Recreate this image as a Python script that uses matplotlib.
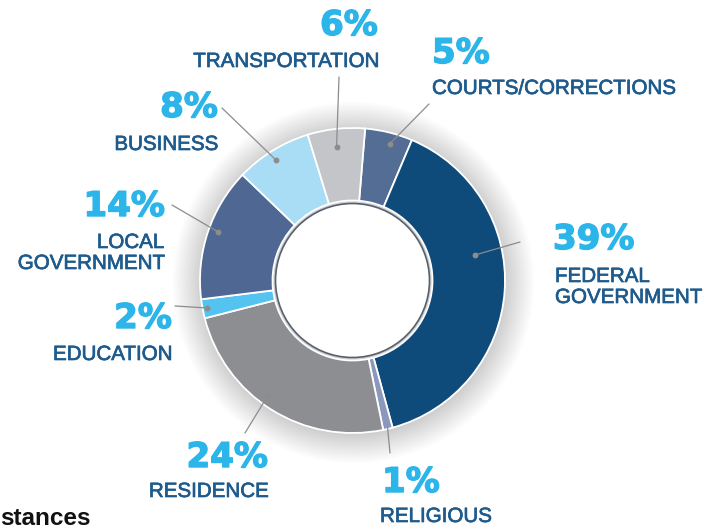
import numpy as np
import matplotlib
matplotlib.use('Agg')
import matplotlib.pyplot as plt
import matplotlib.patheffects as pe
from matplotlib.patches import Circle

# data, clockwise from the top
categories = ['COURTS/CORRECTIONS', 'FEDERAL\nGOVERNMENT', 'RELIGIOUS', 'RESIDENCE',
              'EDUCATION', 'LOCAL\nGOVERNMENT', 'BUSINESS', 'TRANSPORTATION']
values = [5, 39, 1, 24, 2, 14, 8, 6]
pct_labels = ['5%', '39%', '1%', '24%', '2%', '14%', '8%', '6%']
colors = ['#536d95', '#0e4b7a', '#8a98bd', '#8c8e92',
          '#55c3ef', '#4e6893', '#a9ddf6', '#c4c5c8']

W, H = 704, 530
cx, cy, R, R_in = 352.5, H - 280.5, 152.5, 80

# layout in pixel coords (y from top): (x, baseline, ha)
pct_pos = [(432, 63, 'left'), (553, 249, 'left'), (382, 492, 'left'), (268, 467, 'right'),
           (172, 328, 'right'), (165, 216, 'right'), (218, 117, 'right'), (349, 35, 'center')]
lab_pos = [(432, 94, 'left'), (555, 282, 'left'), (380, 522, 'left'), (268, 497, 'right'),
           (172, 360, 'right'), (164, 248, 'right'), (218, 150, 'right'), (286, 67, 'center')]
# leader lines: where in the wedge they start, and where they end
lead_frac = [0.58, 0.39, 0.5, 0.55, 0.5, 0.53, 0.47, 0.47]
lead_rad = [0.93, 0.82, 0.99, 0.93, 0.97, 0.94, 0.94, 0.88]
lead_end = [(429, 104), (520, 242), (390, 453), (245, 433),
            (175, 306), (172, 205), (222, 108), (339, 77)]
show_dot = [True, True, False, True, True, True, True, True]

pct_color = '#2cb5e9'
lab_color = '#1e5b8c'
line_color = '#8c8c8c'

fig = plt.figure(figsize=(W / 100, H / 100), dpi=100)
ax = fig.add_axes([0, 0, 1, 1])

# soft shadow round the donut
for r in np.linspace(R + 28, R + 1, 16):
    ax.add_patch(Circle((cx + 1, cy - 2), r, facecolor='#000000', alpha=0.013,
                        edgecolor='none', zorder=0))

wedges, _ = ax.pie(values, colors=colors, startangle=85.25, counterclock=False,
                   radius=R, center=(cx, cy),
                   wedgeprops=dict(width=R - R_in, edgecolor='white', linewidth=1.3))
for w in wedges:
    w.set_zorder(2)

# white hole with thin dark ring
ax.add_patch(Circle((cx, cy), 77, facecolor='white', edgecolor='#56616f',
                    linewidth=1.2, zorder=3))

pct_fx = [pe.withStroke(linewidth=1.0, foreground=pct_color)]
lab_fx = [pe.withStroke(linewidth=0.5, foreground=lab_color)]

for i, w in enumerate(wedges):
    ang = np.deg2rad(w.theta2 - lead_frac[i] * (w.theta2 - w.theta1))
    x0 = cx + lead_rad[i] * R * np.cos(ang)
    y0 = cy + lead_rad[i] * R * np.sin(ang)
    ex, ey = lead_end[i]
    ax.plot([x0, ex], [y0, H - ey], color=line_color, lw=0.9, zorder=4,
            solid_capstyle='round')
    if show_dot[i]:
        ax.plot(x0, y0, 'o', color=line_color, ms=3.2, zorder=5)

    px, py, pha = pct_pos[i]
    ax.text(px, H - py, pct_labels[i], ha=pha, va='baseline', color=pct_color,
            fontsize=24.5, fontweight='bold', family='DejaVu Sans', path_effects=pct_fx)
    lx, ly, lha = lab_pos[i]
    for j, line in enumerate(categories[i].split('\n')):
        ax.text(lx, H - (ly + 21 * j), line, ha=lha, va='baseline', color=lab_color,
                fontsize=14.8, family='Liberation Sans', path_effects=lab_fx)

# cut-off word from the neighbouring panel
ax.text(0, H - 525, 'stances', ha='left', va='baseline', color='#111111',
        fontsize=17.5, fontweight='bold', family='Liberation Sans')

ax.set_xlim(0, W)
ax.set_ylim(0, H)
ax.set_aspect('auto')
ax.axis('off')

fig.savefig('out.png', dpi=100)
